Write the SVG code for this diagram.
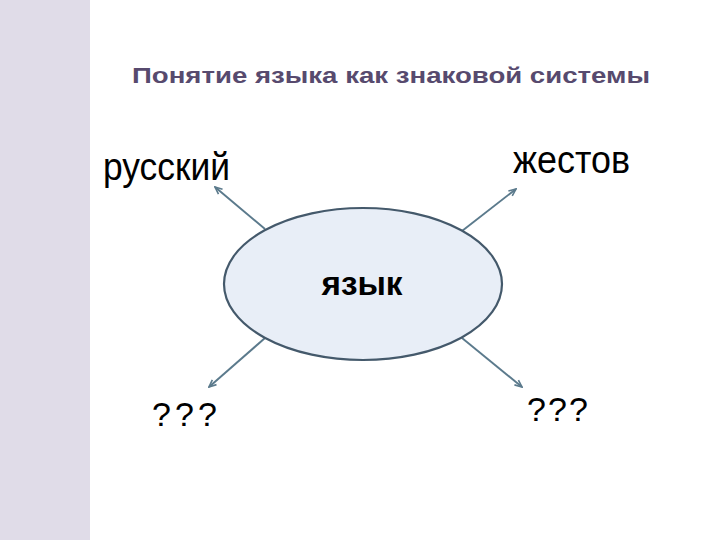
<svg xmlns="http://www.w3.org/2000/svg" width="720" height="540" viewBox="0 0 720 540">
<style>
.t{font-family:"Liberation Sans",Arial,sans-serif;fill:#000}
.c{stroke:#5b7a8c;stroke-width:1.9;fill:none}
</style>
<defs>
<marker id="ah" viewBox="0 0 10 10" refX="9" refY="5" markerWidth="9" markerHeight="9" orient="auto" markerUnits="userSpaceOnUse">
<path d="M1,1.5 L9,5 L1,8.5" fill="none" stroke="#5b7a8c" stroke-width="1.8"/>
</marker>
</defs>
<rect x="0" y="0" width="720" height="540" fill="#ffffff"/>
<rect x="0" y="0" width="90" height="540" fill="#e0dce8"/>
<text x="132" y="83" class="t" font-size="21.5" font-weight="bold" style="fill:#574a6e" textLength="518" lengthAdjust="spacingAndGlyphs">Понятие языка как знаковой системы</text>
<g id="connectors">
<line class="c" x1="265" y1="229" x2="215" y2="187" marker-end="url(#ah)"/>
<line class="c" x1="462" y1="231" x2="516" y2="189" marker-end="url(#ah)"/>
<line class="c" x1="265" y1="338" x2="209" y2="387" marker-end="url(#ah)"/>
<line class="c" x1="462" y1="338" x2="522" y2="387" marker-end="url(#ah)"/>
</g>
<g id="center">
<ellipse cx="363" cy="284" rx="139" ry="76" fill="#e8eef7" stroke="#44596b" stroke-width="2.2"/>
<text x="362" y="295" class="t" font-size="34" font-weight="bold" text-anchor="middle" textLength="81" lengthAdjust="spacingAndGlyphs">язык</text>
</g>
<g id="n-russian">
<text x="103" y="180" class="t" font-size="38" textLength="127" lengthAdjust="spacingAndGlyphs">русский</text>
</g>
<g id="n-gestures">
<text x="513" y="173" class="t" font-size="38" textLength="117" lengthAdjust="spacingAndGlyphs">жестов</text>
</g>
<g id="n-q1">
<text x="152" y="426" class="t" font-size="34" textLength="65" lengthAdjust="spacing">???</text>
</g>
<g id="n-q2">
<text x="527" y="421" class="t" font-size="34" textLength="61" lengthAdjust="spacing">???</text>
</g>
</svg>
